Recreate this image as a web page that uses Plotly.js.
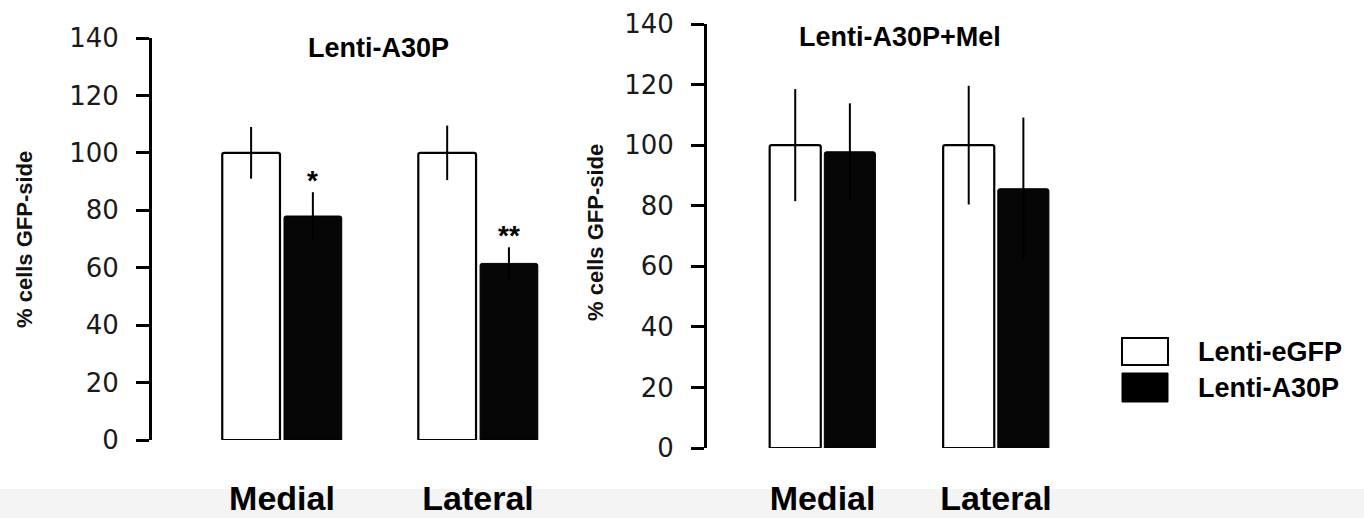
<!DOCTYPE html>
<html>
<head>
<meta charset="utf-8">
<script src="https://cdn.plot.ly/plotly-3.0.1.min.js"></script>
<style>html,body{margin:0;padding:0;background:#fff;}#chart{width:1364px;height:518px;}</style>
</head>
<body>
<div id="chart"></div>
<script>
// ---- data ----
const categories = ['Medial', 'Lateral'];
const seriesNames = ['Lenti-eGFP', 'Lenti-A30P'];
const panelTitles = ['Lenti-A30P', 'Lenti-A30P+Mel'];
const yTickVals = [0, 20, 40, 60, 80, 100, 120, 140];

// Panel 1: Lenti-A30P
const p1EGFP = [100, 100];
const p1EGFPErr = [9, 9.5];
const p1A30P = [78, 61.5];
const p1A30PErr = [8.3, 5.6];
const p1Sig = ['*', '**'];

// Panel 2: Lenti-A30P+Mel
const p2EGFP = [100, 100];
const p2EGFPErr = [18.5, 19.6];
const p2A30P = [97.8, 85.6];
const p2A30PErr = [16, 23.5];

// ---- helpers ----
const W = 1364, H = 518;
const px = x => x / W;
const py = y => 1 - y / H;

const errStyle = {type: 'data', visible: true, color: '#000', thickness: 2, width: 0};

function barPair(eg, egErr, ap, apErr, xa, ya) {
  return [
    {type: 'bar', name: seriesNames[0], x: categories, y: eg,
     error_y: Object.assign({array: egErr}, errStyle),
     marker: {color: '#ffffff', line: {color: '#000', width: 2.2}, cornerradius: 2},
     xaxis: xa, yaxis: ya, showlegend: false},
    {type: 'bar', name: seriesNames[1], x: categories, y: ap,
     error_y: Object.assign({array: apErr}, errStyle),
     marker: {color: '#060606', line: {color: '#000', width: 1}, cornerradius: 2},
     xaxis: xa, yaxis: ya, showlegend: false}
  ];
}

const data = [].concat(
  barPair(p1EGFP, p1EGFPErr, p1A30P, p1A30PErr, 'x', 'y'),
  barPair(p2EGFP, p2EGFPErr, p2A30P, p2A30PErr, 'x2', 'y2')
);

const tickFont = {family: 'DejaVu Sans, Liberation Sans, sans-serif', size: 26, color: '#1a1a1a'};
const xLabFont = {family: 'Liberation Sans, Arial, sans-serif', size: 34, color: '#000', weight: 'bold'};
const boldFont = (s) => ({family: 'Liberation Sans, Arial, sans-serif', size: s, color: '#000', weight: 'bold'});

function yAxis(domain) {
  return {domain: domain, range: [0, 140], tickvals: yTickVals, ticktext: yTickVals.map(String),
    showline: true, linecolor: '#000', linewidth: 3, ticks: 'outside', ticklen: 13, tickwidth: 3,
    tickcolor: '#000', showgrid: false, zeroline: false, tickfont: tickFont, ticklabelstandoff: 12,
    fixedrange: true};
}
function xAxis(domain, range, anchor, standoff) {
  return {domain: domain, range: range, type: 'category', anchor: anchor, showline: false,
    ticks: '', showgrid: false, zeroline: false, tickfont: xLabFont, ticklabelstandoff: standoff,
    fixedrange: true};
}

const annotations = [];
// significance markers above the Lenti-A30P bars
categories.forEach((c, i) => {
  annotations.push({xref: 'x', yref: 'y', x: c, y: p1A30P[i] + p1A30PErr[i], text: p1Sig[i],
    showarrow: false, xanchor: 'center', yanchor: 'bottom', xshift: 31, yshift: -6,
    font: boldFont(28)});
});
// panel titles
annotations.push({xref: 'paper', yref: 'paper', x: px(379), y: py(48), text: panelTitles[0],
  showarrow: false, xanchor: 'center', yanchor: 'middle', font: boldFont(27)});
annotations.push({xref: 'paper', yref: 'paper', x: px(900), y: py(37), text: panelTitles[1],
  showarrow: false, xanchor: 'center', yanchor: 'middle', font: boldFont(27)});
// y-axis titles
const yTitleFont = {family: 'Liberation Sans, Arial, sans-serif', size: 22, color: '#111', weight: 'bold'};
annotations.push({xref: 'paper', yref: 'paper', x: px(25), y: py(240), text: '% cells GFP-side',
  textangle: -90, showarrow: false, xanchor: 'center', yanchor: 'middle', font: yTitleFont});
annotations.push({xref: 'paper', yref: 'paper', x: px(595), y: py(233), text: '% cells GFP-side',
  textangle: -90, showarrow: false, xanchor: 'center', yanchor: 'middle', font: yTitleFont});
// legend labels
annotations.push({xref: 'paper', yref: 'paper', x: px(1196), y: py(352), text: seriesNames[0],
  showarrow: false, xanchor: 'left', yanchor: 'middle', font: boldFont(27)});
annotations.push({xref: 'paper', yref: 'paper', x: px(1196), y: py(388), text: seriesNames[1],
  showarrow: false, xanchor: 'left', yanchor: 'middle', font: boldFont(27)});

const shapes = [
  {type: 'rect', xref: 'paper', yref: 'paper', x0: 0, x1: 1, y0: 0, y1: py(489),
   fillcolor: '#f4f4f4', line: {width: 0}, layer: 'below'},
  {type: 'rect', xref: 'paper', yref: 'paper', x0: px(1122), x1: px(1168), y0: py(365), y1: py(338),
   fillcolor: '#ffffff', line: {color: '#000', width: 2}},
  {type: 'rect', xref: 'paper', yref: 'paper', x0: px(1122), x1: px(1168), y0: py(402), y1: py(373),
   fillcolor: '#000000', line: {color: '#000', width: 1}}
];

const layout = {
  width: W, height: H,
  margin: {l: 0, r: 0, t: 0, b: 0},
  paper_bgcolor: '#ffffff', plot_bgcolor: 'rgba(0,0,0,0)',
  barmode: 'group', bargap: 0.37, bargroupgap: 0.065,
  showlegend: false,
  xaxis: xAxis([px(152), px(580)], [-0.663, 1.52], 'y', 35),
  yaxis: yAxis([1 - 440 / H, 1 - 38 / H]),
  xaxis2: xAxis([px(707), px(1080)], [-0.666, 1.484], 'y2', 27),
  yaxis2: Object.assign(yAxis([1 - 448 / H, 1 - 24 / H]), {anchor: 'x2'}),
  annotations: annotations,
  shapes: shapes
};
layout.yaxis.anchor = 'x';

Plotly.newPlot('chart', data, layout, {displayModeBar: false, staticPlot: true});
</script>
</body>
</html>
